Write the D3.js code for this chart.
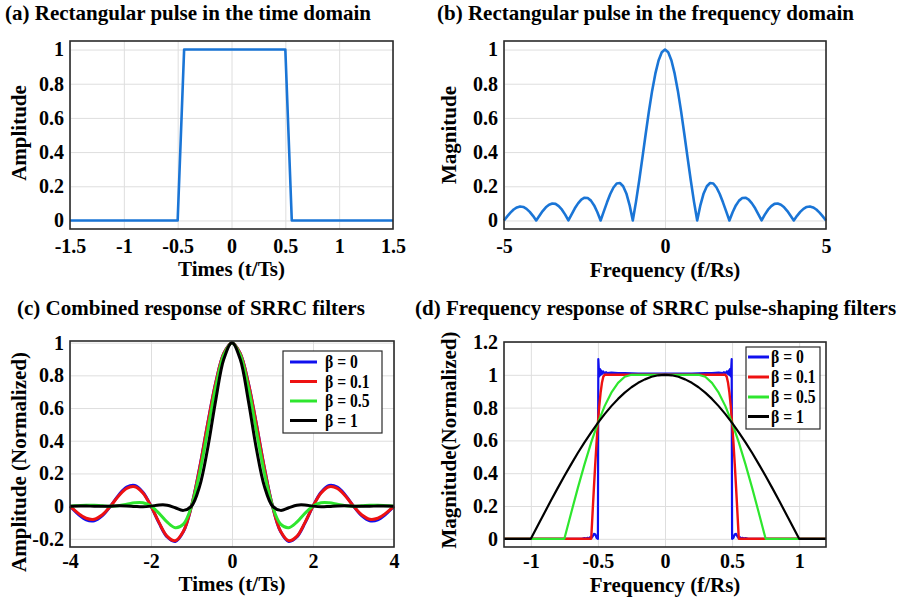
<!DOCTYPE html>
<html>
<head>
<meta charset="utf-8">
<script src="https://cdn.jsdelivr.net/npm/d3@7"></script>
<style>
body { margin: 0; background: #fff; }
svg { display: block; font-family: "Liberation Serif", "Times New Roman", serif; font-weight: bold; }
</style>
</head>
<body>
<div id="chart"></div>
<script>
// (a) rectangular pulse, time domain
const aTimes = [-1.5, -0.5, -0.44, 0.5, 0.56, 1.5];
const aAmps = [0, 0, 1, 1, 0, 0];
const aXTicks = [-1.5, -1, -0.5, 0, 0.5, 1, 1.5];
const aYTicks = [0, 0.2, 0.4, 0.6, 0.8, 1];

// (b) rectangular pulse, frequency domain
const bFreqs = [-5, -4.9, -4.8, -4.7, -4.6, -4.5, -4.4, -4.3, -4.2, -4.1,
    -4, -3.9, -3.8, -3.7, -3.6, -3.5, -3.4, -3.3, -3.2, -3.1,
    -3, -2.9, -2.8, -2.7, -2.6, -2.5, -2.4, -2.3, -2.2, -2.1,
    -2, -1.9, -1.8, -1.7, -1.6, -1.5, -1.4, -1.3, -1.2, -1.1,
    -1, -0.9, -0.8, -0.7, -0.6, -0.5, -0.4, -0.3, -0.2, -0.1,
    0,
    0.1, 0.2, 0.3, 0.4, 0.5, 0.6, 0.7, 0.8, 0.9, 1,
    1.1, 1.2, 1.3, 1.4, 1.5, 1.6, 1.7, 1.8, 1.9, 2,
    2.1, 2.2, 2.3, 2.4, 2.5, 2.6, 2.7, 2.8, 2.9, 3,
    3.1, 3.2, 3.3, 3.4, 3.5, 3.6, 3.7, 3.8, 3.9, 4,
    4.1, 4.2, 4.3, 4.4, 4.5, 4.6, 4.7, 4.8, 4.9, 5];
const bMags = [0, .024, .046, .064, .076, .082, .079, .068, .050, .027,
    0, .028, .055, .077, .092, .099, .097, .084, .063, .034,
    0, .036, .071, .100, .122, .133, .131, .116, .088, .048,
    0, .053, .106, .155, .193, .216, .219, .200, .158, .090,
    0, .110, .235, .369, .506, .638, .758, .859, .936, .984,
    1,
    .984, .936, .859, .758, .638, .506, .369, .235, .110, 0,
    .090, .158, .200, .219, .216, .193, .155, .106, .053, 0,
    .048, .088, .116, .131, .133, .122, .100, .071, .036, 0,
    .034, .063, .084, .097, .099, .092, .077, .055, .028, 0,
    .027, .050, .068, .079, .082, .076, .064, .046, .024, 0];
const bXTicks = [-5, 0, 5];
const bYTicks = [0, 0.2, 0.4, 0.6, 0.8, 1];

// (c) combined SRRC response
const cTimes = [-4, -3.8, -3.6, -3.4, -3.2, -3, -2.8, -2.6, -2.4, -2.2, -2, -1.8, -1.6, -1.4, -1.2, -1,
    -0.8, -0.6, -0.4, -0.2, 0, 0.2, 0.4, 0.6, 0.8, 1, 1.2, 1.4, 1.6, 1.8, 2, 2.2, 2.4, 2.6, 2.8, 3,
    3.2, 3.4, 3.6, 3.8, 4];
const cBeta0 = [0, -.049, -.084, -.089, -.058, 0, .067, .116, .126, .085, 0, -.104, -.189, -.216, -.156, 0,
    .234, .505, .757, .935, 1, .935, .757, .505, .234, 0, -.156, -.216, -.189, -.104, 0, .085, .126, .116, .067, 0,
    -.058, -.089, -.084, -.049, 0];
const cBeta01 = [0, -.043, -.074, -.080, -.053, 0, .062, .109, .119, .081, 0, -.101, -.185, -.212, -.154, 0,
    .232, .503, .756, .935, 1, .935, .756, .503, .232, 0, -.154, -.212, -.185, -.101, 0, .081, .119, .109, .062, 0,
    -.053, -.080, -.074, -.043, 0];
const cBeta05 = [0, .003, .006, .005, .002, 0, .003, .012, .021, .021, 0, -.044, -.098, -.132, -.110, 0,
    .201, .463, .729, .927, 1, .927, .729, .463, .201, 0, -.110, -.132, -.098, -.044, 0, .021, .021, .012, .003, 0,
    .002, .005, .006, .003, 0];
const cBeta1 = [0, .001, .001, -.001, -.001, 0, .002, .001, -.002, -.004, 0, .007, .006, -.010, -.026, 0,
    .121, .354, .650, .901, 1, .901, .650, .354, .121, 0, -.026, -.010, .006, .007, 0, -.004, -.002, .001, .002, 0,
    -.001, -.001, .001, .001, 0];
const cXTicks = [-4, -2, 0, 2, 4];
const cYTicks = [-0.2, 0, 0.2, 0.4, 0.6, 0.8, 1];

// (d) SRRC frequency responses
const dFreqBlue = [-1.2, -0.62, -0.6, -0.59, -0.58, -0.57, -0.56, -0.55, -0.54, -0.53, -0.52, -0.51, -0.5,
    -0.497, -0.49, -0.485, -0.48, -0.475, -0.47, -0.46, -0.45, -0.44, -0.43, -0.4, -0.35, -0.3, -0.2, 0,
    0.2, 0.3, 0.35, 0.4, 0.43, 0.44, 0.45, 0.46, 0.47, 0.475, 0.48, 0.485, 0.49, 0.497,
    0.5, 0.51, 0.52, 0.53, 0.54, 0.55, 0.56, 0.57, 0.58, 0.59, 0.6, 0.62, 1.2];
const dMagBlue = [0, 0, .004, .001, .006, .002, .009, .004, .014, .030, .028, .006, 0,
    1.095, .99, 1.035, 1.0, 1.025, 1.005, 1.02, 1.008, 1.016, 1.01, 1.013, 1.01, 1.011, 1.008, 1.008,
    1.008, 1.011, 1.01, 1.013, 1.01, 1.016, 1.008, 1.02, 1.005, 1.025, 1.0, 1.035, .99, 1.095,
    0, .006, .028, .030, .014, .004, .009, .002, .006, .001, .004, 0, 0];
const dFreqRed = [-1.2, -0.55, -0.54, -0.53, -0.52, -0.51, -0.5, -0.49, -0.48, -0.47, -0.46, -0.45,
    0.45, 0.46, 0.47, 0.48, 0.49, 0.5, 0.51, 0.52, 0.53, 0.54, 0.55, 1.2];
const dMagRed = [0, 0, .156, .309, .454, .588, .707, .809, .891, .951, .988, 1,
    1, .988, .951, .891, .809, .707, .588, .454, .309, .156, 0, 0];
const dFreqGreen = [-1.2, -0.75, -0.7, -0.65, -0.6, -0.55, -0.5, -0.45, -0.4, -0.35, -0.3, -0.25,
    0.25, 0.3, 0.35, 0.4, 0.45, 0.5, 0.55, 0.6, 0.65, 0.7, 0.75, 1.2];
const dMagGreen = [0, 0, .156, .309, .454, .588, .707, .809, .891, .951, .988, 1,
    1, .988, .951, .891, .809, .707, .588, .454, .309, .156, 0, 0];
const dFreqBlack = [-1.2, -1, -0.95, -0.9, -0.85, -0.8, -0.75, -0.7, -0.65, -0.6, -0.55, -0.5, -0.45, -0.4,
    -0.35, -0.3, -0.25, -0.2, -0.15, -0.1, -0.05, 0, 0.05, 0.1, 0.15, 0.2, 0.25, 0.3, 0.35, 0.4, 0.45,
    0.5, 0.55, 0.6, 0.65, 0.7, 0.75, 0.8, 0.85, 0.9, 0.95, 1, 1.2];
const dMagBlack = [0, 0, .078, .156, .233, .309, .383, .454, .523, .588, .649, .707, .760, .809,
    .853, .891, .924, .951, .972, .988, .997, 1, .997, .988, .972, .951, .924, .891, .853, .809, .760,
    .707, .649, .588, .523, .454, .383, .309, .233, .156, .078, 0, 0];
const dXTicks = [-1, -0.5, 0, 0.5, 1];
const dYTicks = [0, 0.2, 0.4, 0.6, 0.8, 1, 1.2];

const betaLabels = ['β = 0', 'β = 0.1', 'β = 0.5', 'β = 1'];
const betaColors = ['#1010ee', '#ee1111', '#2ee62e', '#000000'];
const pulseBlue = '#1a75d6';

const svg = d3.select('#chart')
    .append('svg')
    .attr('width', 901)
    .attr('height', 602)
    .attr('viewBox', '0 0 901 602');

svg.append('rect').attr('width', 901).attr('height', 602).attr('fill', '#fff');

function drawPanel(p) {
    const x = d3.scaleLinear().domain(p.xDomain).range([p.left, p.right]);
    const y = d3.scaleLinear().domain(p.yDomain).range([p.bottom, p.top]);
    const g = svg.append('g');

    g.append('g')
        .attr('class', 'grid')
        .attr('transform', `translate(0, ${p.top})`)
        .call(d3.axisTop(x).tickValues(p.xTicks).tickSize(-(p.bottom - p.top)).tickFormat(''));
    g.append('g')
        .attr('class', 'grid')
        .attr('transform', `translate(${p.left}, 0)`)
        .call(d3.axisLeft(y).tickValues(p.yTicks).tickSize(-(p.right - p.left)).tickFormat(''));
    g.selectAll('.grid .domain').remove();
    g.selectAll('.grid line').attr('stroke', '#dedede').attr('stroke-width', 1);

    const xa = g.append('g')
        .attr('transform', `translate(0, ${p.bottom})`)
        .call(d3.axisBottom(x).tickValues(p.xTicks).tickSize(0).tickPadding(p.xPad).tickFormat(d => String(d)));
    const ya = g.append('g')
        .attr('transform', `translate(${p.left}, 0)`)
        .call(d3.axisLeft(y).tickValues(p.yTicks).tickSize(0).tickPadding(6).tickFormat(d => String(d)));
    [xa, ya].forEach(a => {
        a.select('.domain').remove();
        a.attr('font-family', null).attr('font-size', 20);
        a.selectAll('text').attr('fill', '#000');
    });

    // x axis title
    g.append('text')
        .attr('x', (p.left + p.right) / 2)
        .attr('y', p.xTitleY)
        .attr('text-anchor', 'middle')
        .attr('font-size', 21)
        .text(p.xTitle);

    // y axis title
    g.append('text')
        .attr('transform', `translate(${p.yTitleX}, ${p.yTitleCy}) rotate(-90)`)
        .attr('text-anchor', 'middle')
        .attr('font-size', 21)
        .text(p.yTitle);

    // panel title
    svg.append('text')
        .attr('x', p.titleX)
        .attr('y', p.titleY)
        .attr('font-size', 21)
        .text(p.title);

    return { x, y, g };
}

function addLine(panel, xs, ys, color, width, curve) {
    const line = d3.line()
        .x(d => panel.x(d[0]))
        .y(d => panel.y(d[1]))
        .curve(curve || d3.curveLinear);
    panel.g.append('path')
        .datum(d3.zip(xs, ys))
        .attr('fill', 'none')
        .attr('stroke', color)
        .attr('stroke-width', width)
        .attr('stroke-linejoin', 'round')
        .attr('d', line);
}

function addFrame(panel, p) {
    panel.g.append('rect')
        .attr('x', p.left)
        .attr('y', p.top)
        .attr('width', p.right - p.left)
        .attr('height', p.bottom - p.top)
        .attr('fill', 'none')
        .attr('stroke', '#2a2a2a')
        .attr('stroke-width', 1.6);
}

function addLegend(panel, L) {
    const lg = panel.g.append('g');
    lg.append('rect')
        .attr('x', L.x0).attr('y', L.y0)
        .attr('width', L.x1 - L.x0).attr('height', L.y1 - L.y0)
        .attr('fill', '#fff')
        .attr('stroke', '#2a2a2a')
        .attr('stroke-width', 1.2);
    betaLabels.forEach((label, i) => {
        const yy = L.rows[i];
        lg.append('line')
            .attr('x1', L.lineX0).attr('x2', L.lineX1)
            .attr('y1', yy).attr('y2', yy)
            .attr('stroke', betaColors[i])
            .attr('stroke-width', 3);
        const t = lg.append('text')
            .attr('x', L.textX)
            .attr('y', yy)
            .attr('dy', '0.35em')
            .attr('font-size', L.fontSize)
            .text(label);
        // the legend text is a little narrower than the font's natural width
        const w = t.node().getComputedTextLength();
        t.attr('textLength', w * 0.87).attr('lengthAdjust', 'spacingAndGlyphs');
    });
}

// panel (a)
const pa = {
    left: 70, right: 393, top: 41, bottom: 229,
    xDomain: [-1.5, 1.5], yDomain: [-0.05, 1.05],
    xTicks: aXTicks, yTicks: aYTicks, xPad: 10,
    xTitle: 'Times (t/Ts)', xTitleY: 276,
    yTitle: 'Amplitude', yTitleX: 26, yTitleCy: 133,
    title: '(a) Rectangular pulse in the time domain', titleX: 5, titleY: 20
};
const panelA = drawPanel(pa);
addLine(panelA, aTimes, aAmps, pulseBlue, 2.6);
addFrame(panelA, pa);

// panel (b)
const pb = {
    left: 504, right: 826, top: 41, bottom: 229,
    xDomain: [-5, 5], yDomain: [-0.05, 1.05],
    xTicks: bXTicks, yTicks: bYTicks, xPad: 10,
    xTitle: 'Frequency (f/Rs)', xTitleY: 277,
    yTitle: 'Magnitude', yTitleX: 456, yTitleCy: 135,
    title: '(b) Rectangular pulse in the frequency domain', titleX: 437, titleY: 20
};
const panelB = drawPanel(pb);
addLine(panelB, bFreqs, bMags, pulseBlue, 2.6);
addFrame(panelB, pb);

// panel (c)
const pc = {
    left: 70, right: 394, top: 341, bottom: 547,
    xDomain: [-4, 4], yDomain: [-0.25, 1.01],
    xTicks: cXTicks, yTicks: cYTicks, xPad: 7,
    xTitle: 'Times (t/Ts)', xTitleY: 591,
    yTitle: 'Amplitude (Normalized)', yTitleX: 26, yTitleCy: 462,
    title: '(c) Combined response of SRRC filters', titleX: 17, titleY: 315
};
const panelC = drawPanel(pc);
[cBeta0, cBeta01, cBeta05, cBeta1].forEach((ys, i) => {
    addLine(panelC, cTimes, ys, betaColors[i], 3, d3.curveCatmullRom);
});
addFrame(panelC, pc);
addLegend(panelC, {
    x0: 283, x1: 382, y0: 351, y1: 433,
    lineX0: 290, lineX1: 317, textX: 325,
    rows: [362, 381.5, 401, 420.5], fontSize: 18
});

// panel (d)
const pd = {
    left: 504, right: 826, top: 342, bottom: 547,
    xDomain: [-1.2, 1.2], yDomain: [-0.05, 1.2],
    xTicks: dXTicks, yTicks: dYTicks, xPad: 7,
    xTitle: 'Frequency (f/Rs)', xTitleY: 592,
    yTitle: 'Magnitude(Normalized)', yTitleX: 456, yTitleCy: 440,
    title: '(d) Frequency response of SRRC pulse-shaping filters', titleX: 415, titleY: 315
};
const panelD = drawPanel(pd);
addLine(panelD, dFreqBlue, dMagBlue, betaColors[0], 2.2);
addLine(panelD, dFreqRed, dMagRed, betaColors[1], 2.4);
addLine(panelD, dFreqGreen, dMagGreen, betaColors[2], 2.2);
addLine(panelD, dFreqBlack, dMagBlack, betaColors[3], 2.2);
addFrame(panelD, pd);
addLegend(panelD, {
    x0: 746, x1: 820, y0: 347, y1: 429,
    lineX0: 748, lineX1: 769, textX: 771,
    rows: [357, 377, 397, 416.5], fontSize: 18
});
</script>
</body>
</html>
